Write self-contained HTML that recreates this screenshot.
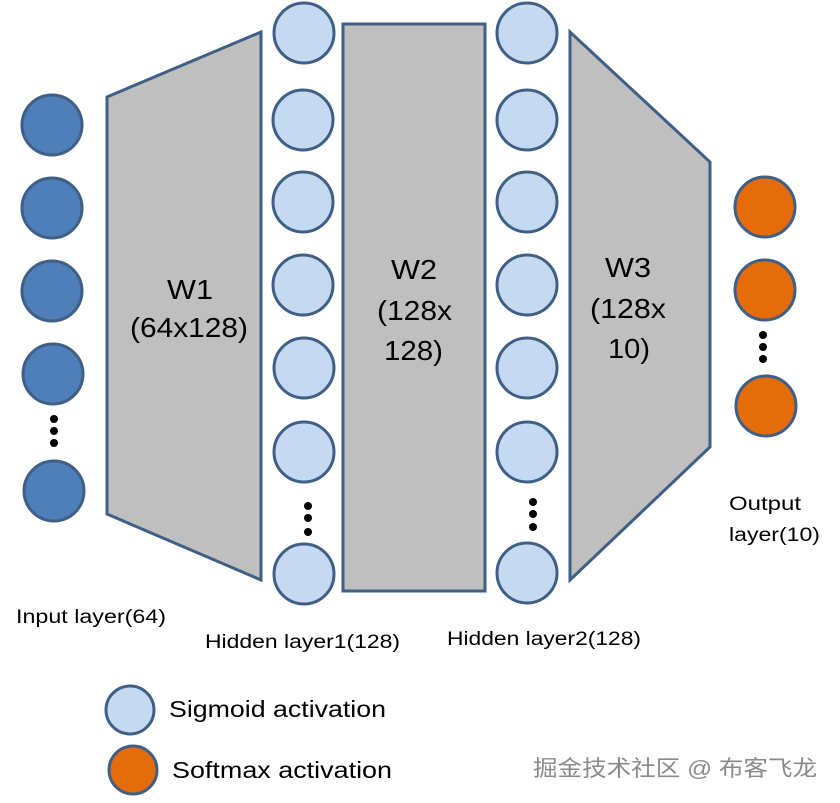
<!DOCTYPE html>
<html><head><meta charset="utf-8"><style>
html,body{margin:0;padding:0;background:#fff;}
svg{display:block;}
text{font-family:"Liberation Sans","DejaVu Sans",sans-serif;fill:#000;}
</style></head><body>
<svg width="840" height="803" viewBox="0 0 840 803" xmlns="http://www.w3.org/2000/svg">
<g stroke="#3f5f86" stroke-width="3">
<polygon points="107,97 261,32 261,580 107,514" fill="#bfbfbf"/>
<rect x="343" y="24" width="142" height="567" fill="#bfbfbf"/>
<polygon points="570,32 710,162 710,447 570,580" fill="#bfbfbf"/>
<g fill="#4f7fb8">
<circle cx="52" cy="125" r="30"/><circle cx="52" cy="208" r="30"/><circle cx="52" cy="291" r="30"/><circle cx="53" cy="374" r="30"/><circle cx="54" cy="491" r="30"/>
</g>
<g fill="#c5d9f0">
<circle cx="304" cy="33" r="30"/><circle cx="303" cy="120" r="30"/><circle cx="303" cy="202" r="30"/><circle cx="303" cy="285" r="30"/><circle cx="304" cy="368" r="30"/><circle cx="304" cy="452" r="30"/><circle cx="304" cy="574" r="30"/>
<circle cx="527" cy="33" r="30"/><circle cx="527" cy="120" r="30"/><circle cx="527" cy="202" r="30"/><circle cx="527" cy="285" r="30"/><circle cx="527" cy="368" r="30"/><circle cx="527" cy="452" r="30"/><circle cx="527" cy="573" r="30"/>
<circle cx="130" cy="710" r="24"/>
</g>
<g fill="#e46c0a">
<circle cx="765" cy="207" r="30"/><circle cx="765" cy="290" r="30"/><circle cx="766" cy="406" r="30"/>
<circle cx="133" cy="770" r="24"/>
</g>
</g>
<g fill="#000">
<circle cx="54" cy="419" r="4"/><circle cx="54" cy="431" r="4"/><circle cx="54" cy="443" r="4"/>
<circle cx="308" cy="506" r="4"/><circle cx="308" cy="518" r="4"/><circle cx="308" cy="532" r="4"/>
<circle cx="533" cy="502" r="4"/><circle cx="533" cy="514" r="4"/><circle cx="533" cy="527" r="4"/>
<circle cx="763" cy="335" r="4"/><circle cx="763" cy="347" r="4"/><circle cx="763" cy="359" r="4"/>
</g>
<g font-size="28">
<text x="167" y="299" textLength="46" lengthAdjust="spacingAndGlyphs">W1</text>
<text x="130" y="337" textLength="118" lengthAdjust="spacingAndGlyphs">(64x128)</text>
<text x="391" y="279" textLength="46" lengthAdjust="spacingAndGlyphs">W2</text>
<text x="377" y="320" textLength="75" lengthAdjust="spacingAndGlyphs">(128x</text>
<text x="384" y="360" textLength="59" lengthAdjust="spacingAndGlyphs">128)</text>
<text x="605" y="277" textLength="46" lengthAdjust="spacingAndGlyphs">W3</text>
<text x="590" y="318" textLength="76" lengthAdjust="spacingAndGlyphs">(128x</text>
<text x="608" y="358" textLength="42" lengthAdjust="spacingAndGlyphs">10)</text>
</g>
<g font-size="19">
<text x="16" y="623" textLength="150" lengthAdjust="spacingAndGlyphs">Input layer(64)</text>
<text x="205" y="648" textLength="195" lengthAdjust="spacingAndGlyphs">Hidden layer1(128)</text>
<text x="447" y="645" textLength="194" lengthAdjust="spacingAndGlyphs">Hidden layer2(128)</text>
<text x="729" y="510" textLength="72" lengthAdjust="spacingAndGlyphs">Output</text>
<text x="729" y="541" textLength="91" lengthAdjust="spacingAndGlyphs">layer(10)</text>
</g>
<g font-size="23">
<text x="169" y="717" textLength="217" lengthAdjust="spacingAndGlyphs">Sigmoid activation</text>
<text x="172" y="778" textLength="220" lengthAdjust="spacingAndGlyphs">Softmax activation</text>
</g>
<text x="533" y="776" font-size="22" textLength="284" lengthAdjust="spacingAndGlyphs" style="font-family:'Liberation Sans','Noto Sans CJK SC',sans-serif;fill:#8a8a8a">掘金技术社区 @ 布客飞龙</text>
</svg>
</body></html>
